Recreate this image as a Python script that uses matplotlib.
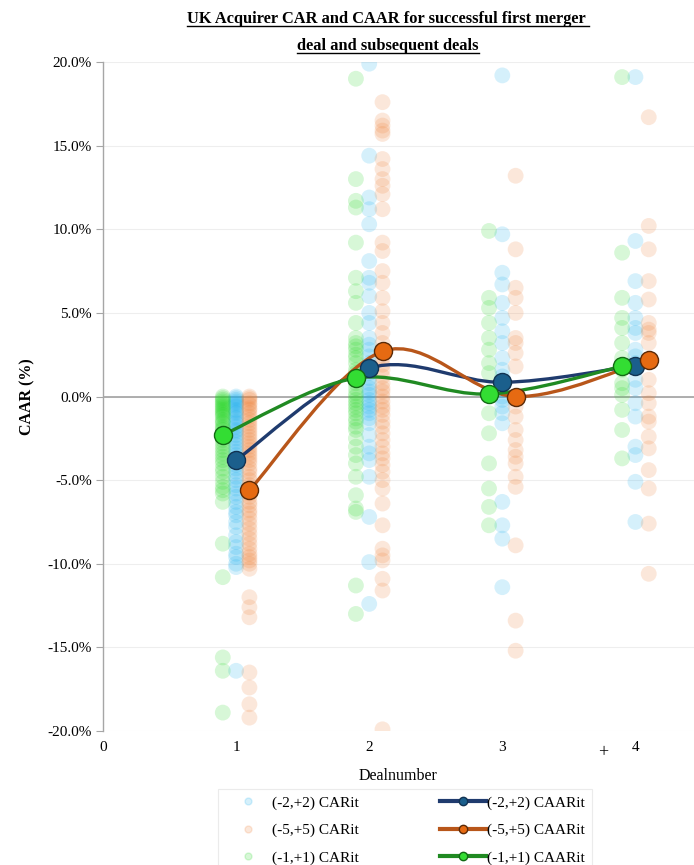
import matplotlib
matplotlib.use("Agg")
import numpy as np
import matplotlib.pyplot as plt
from matplotlib.path import Path
from matplotlib.patches import PathPatch
from matplotlib.lines import Line2D

plt.rcParams["font.family"] = ["Liberation Serif", "DejaVu Serif"]

# deal numbers
deals = [1, 2, 3, 4]

# CAR scatter values (%) per deal, one list per event window
car_22 = [
    [0.0, -0.1, -0.2, -0.3, -0.4, -0.5, -0.6, -0.8, -0.9, -1.0, -1.2, -1.3, -1.5, -1.6,
     -1.8, -2.0, -2.1, -2.3, -2.5, -2.7, -2.9, -3.1, -3.3, -3.5, -3.7, -3.9, -4.1, -4.3,
     -4.5, -4.8, -5.0, -5.3, -5.5, -5.8, -6.0, -6.3, -6.6, -6.9, -7.1, -7.5, -7.8, -8.3,
     -8.7, -9.0, -9.4, -9.6, -10.0, -10.2, -16.4],
    [19.9, 14.4, 11.9, 11.2, 10.3, 8.1, 7.1, 6.8, 6.0, 5.0, 4.4, 3.5, 3.1, 2.8, 2.4, 2.0,
     1.7, 1.4, 1.1, 0.8, 0.5, 0.3, 0.1, -0.2, -0.4, -0.6, -0.8, -1.0, -1.3, -1.6, -2.3,
     -3.0, -3.4, -3.8, -4.8, -7.2, -9.9, -12.4],
    [19.2, 9.7, 7.4, 6.7, 5.6, 4.7, 3.9, 3.2, 2.3, 1.6, 1.2, 0.8, 0.4, 0.0, -0.2, -0.6,
     -1.0, -1.6, -6.3, -7.7, -8.5, -11.4],
    [19.1, 9.3, 6.9, 5.6, 4.7, 4.1, 3.8, 2.8, 2.4, 2.0, 1.0, 0.5, -0.4, -1.2, -3.0, -3.5,
     -5.1, -7.5],
]
car_55 = [
    [0.0, -0.1, -0.2, -0.4, -0.5, -0.7, -0.8, -1.0, -1.2, -1.4, -1.6, -1.8, -2.0, -2.2,
     -2.4, -2.6, -2.8, -3.0, -3.2, -3.4, -3.6, -3.8, -4.0, -4.3, -4.5, -4.8, -5.0, -5.3,
     -5.5, -5.8, -6.0, -6.3, -6.5, -6.8, -7.0, -7.3, -7.6, -7.9, -8.2, -8.5, -8.8, -9.1,
     -9.4, -9.6, -9.8, -10.0, -10.3, -12.0, -12.6, -13.2, -16.5, -17.4, -18.4, -19.2],
    [17.6, 16.5, 16.2, 15.9, 15.7, 14.2, 13.6, 13.0, 12.6, 12.1, 11.2, 9.2, 8.7, 7.5, 6.8,
     5.9, 5.1, 4.4, 3.8, 3.2, 2.7, 2.3, 1.9, 1.6, 1.2, 0.8, 0.5, 0.3, 0.0, -0.3, -0.6,
     -0.8, -1.1, -1.5, -1.8, -2.2, -2.6, -3.0, -3.4, -3.7, -4.1, -4.5, -5.0, -5.5, -6.4,
     -7.7, -9.1, -9.5, -9.8, -10.9, -11.6, -19.9],
    [13.2, 8.8, 6.5, 5.9, 5.0, 3.5, 3.2, 2.6, 1.8, -0.6, -1.2, -2.0, -2.6, -3.2, -3.6,
     -4.0, -4.8, -5.4, -8.9, -13.4, -15.2],
    [16.7, 10.2, 8.8, 6.9, 5.8, 4.4, 4.0, 3.8, 3.2, 1.0, 0.2, -0.4, -1.2, -1.5, -2.4,
     -3.1, -4.4, -5.5, -7.6, -10.6],
]
car_11 = [
    [0.0, -0.1, -0.2, -0.3, -0.4, -0.5, -0.6, -0.7, -0.8, -0.9, -1.0, -1.1, -1.2, -1.4,
     -1.5, -1.6, -1.8, -1.9, -2.0, -2.2, -2.4, -2.6, -2.8, -3.0, -3.2, -3.4, -3.6, -3.8,
     -4.0, -4.3, -4.5, -4.8, -5.1, -5.4, -5.6, -5.8, -6.3, -8.8, -10.8, -15.6, -16.4,
     -18.9],
    [19.0, 13.0, 11.7, 11.3, 9.2, 7.1, 6.3, 5.6, 4.4, 3.5, 3.2, 3.0, 2.8, 2.5, 2.3, 2.0,
     1.6, 1.4, 1.2, 0.8, 0.5, 0.2, 0.0, -0.2, -0.4, -0.6, -0.8, -1.0, -1.3, -1.5, -1.8,
     -2.0, -2.5, -3.0, -3.5, -4.0, -4.8, -5.9, -6.7, -6.9, -11.3, -13.0],
    [9.9, 5.9, 5.3, 4.4, 3.5, 2.8, 2.0, 1.4, 0.2, -1.0, -2.2, -4.0, -5.5, -6.6, -7.7],
    [19.1, 8.6, 5.9, 4.7, 4.1, 3.2, 2.3, 1.6, 0.8, 0.5, 0.1, -0.8, -2.0, -3.7],
]

# CAAR values (%)
caar_22 = [-3.8, 1.7, 0.85, 1.85]
caar_55 = [-5.6, 2.7, 0.0, 2.2]
caar_11 = [-2.3, 1.1, 0.15, 1.8]

series = [
    # label, car, caar, x offset, dot colour, line colour, marker fill, marker edge
    ("(-2,+2)", car_22, caar_22, 0.0, "#1AAEEE", "#1F3B6E", "#1B5F8C", "#123352"),
    ("(-5,+5)", car_55, caar_55, 0.1, "#EE7F34", "#B8561A", "#E66A12", "#5A2A08"),
    ("(-1,+1)", car_11, caar_11, -0.1, "#22D622", "#208A22", "#33DD33", "#126A14"),
]


def smooth_path(xs, ys):
    # cubic bezier segments, excel-style smoothing
    pts = np.column_stack([xs, ys])
    ext = np.vstack([pts[0], pts, pts[-1]])
    verts = [pts[0]]
    codes = [Path.MOVETO]
    for i in range(len(pts) - 1):
        p0, p1, p2, p3 = ext[i], ext[i + 1], ext[i + 2], ext[i + 3]
        verts += [p1 + (p2 - p0) / 6.0, p2 - (p3 - p1) / 6.0, p2]
        codes += [Path.CURVE4] * 3
    return Path(verts, codes)


fig = plt.figure(figsize=(6.94, 8.65), dpi=100)
ax = fig.add_axes([0.1484, 0.1549, 0.8516, 0.7734])

ax.set_xlim(0, 4.44)
ax.set_ylim(-20, 20)
ax.set_yticks(np.arange(-20, 20.1, 5))
ax.set_yticklabels([f"{v:.1f}%" for v in np.arange(-20, 20.1, 5)])
ax.set_xticks([0, 1, 2, 3, 4])
ax.grid(axis="y", color="#EEEEEE", linewidth=0.8)
ax.set_axisbelow(True)
ax.axhline(0, color="#A8A8A8", linewidth=1.3, zorder=1)
for s in ["top", "right", "bottom"]:
    ax.spines[s].set_visible(False)
ax.spines["left"].set_color("#A6A6A6")
ax.spines["left"].set_linewidth(1.0)
ax.tick_params(axis="y", length=5, color="#A6A6A6", labelsize=11, pad=3)
ax.tick_params(axis="x", length=0, labelsize=11, pad=7)

handles_car = []
handles_caar = []
for label, car, caar, off, dcol, lcol, mfill, medge in series:
    for d, vals in zip(deals, car):
        ax.scatter(np.full(len(vals), d + off), vals, s=130, color=dcol, alpha=0.18,
                   edgecolors="none", zorder=2)
    xs = np.array(deals, dtype=float) + off
    ax.add_patch(PathPatch(smooth_path(xs, caar), facecolor="none", edgecolor=lcol,
                           linewidth=2.4, zorder=4))
    ax.plot(xs, caar, linestyle="none", marker="o", markersize=13, markerfacecolor=mfill,
            markeredgecolor=medge, markeredgewidth=1.0, zorder=5)
    handles_car.append(Line2D([], [], linestyle="none", marker="o", markersize=5,
                              color=dcol, alpha=0.18, label=f"{label} CARit"))
    handles_caar.append(Line2D([], [], color=lcol, linewidth=3, marker="o", markersize=6,
                               markerfacecolor=mfill, markeredgecolor=medge,
                               label=f"{label} CAARit"))

ax.set_ylabel("CAAR (%)", fontsize=11.5, fontweight="bold")
ax.yaxis.set_label_coords(-0.115, 0.5)
ax.set_xlabel("Dealnumber", fontsize=11.5, labelpad=10)
fig.text(603 / 694, 1 - 753 / 865, "+", ha="center", va="center", fontsize=13)

leg = fig.legend(handles=handles_car + handles_caar, ncol=2, loc="upper left",
                 bbox_to_anchor=(218 / 694, 1 - 789 / 865), borderaxespad=0,
                 fontsize=11, frameon=True, fancybox=False, edgecolor="#E6E6E6",
                 handlelength=3.0, columnspacing=5.3, labelspacing=0.9,
                 borderpad=0.45, handletextpad=0.1)
leg.get_frame().set_linewidth(0.8)

# underlined two-line title
titles = ["UK Acquirer CAR and CAAR for successful first merger ",
          "deal and subsequent deals"]
title_y = [1 - 19 / 865, 1 - 46 / 865]
tobjs = [fig.text(388 / 694, ty, t, ha="center", va="center", fontsize=11.8,
                  fontweight="bold") for t, ty in zip(titles, title_y)]
fig.canvas.draw()
inv = fig.transFigure.inverted()
for t in tobjs:
    bb = t.get_window_extent()
    (x0, y0), (x1, _) = inv.transform([[bb.x0, bb.y0], [bb.x1, bb.y0]])
    fig.add_artist(Line2D([x0, x1], [y0 + 0.0015, y0 + 0.0015], color="black",
                          linewidth=1.0, transform=fig.transFigure))

fig.savefig("out.png", dpi=100)
